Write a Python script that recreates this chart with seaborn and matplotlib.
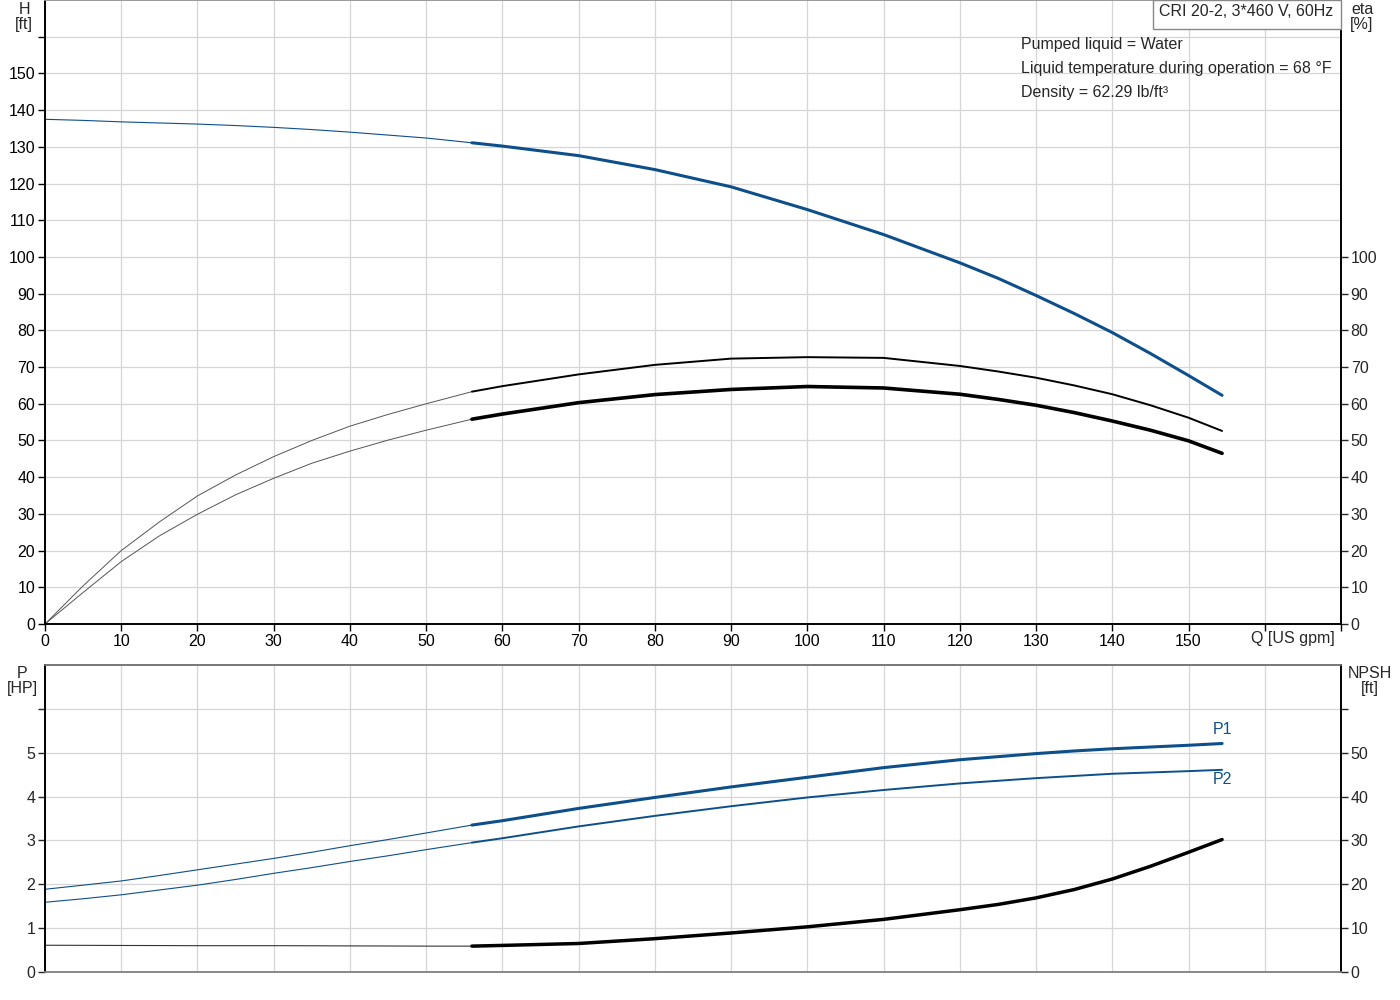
import matplotlib
matplotlib.use("Agg")
import matplotlib.pyplot as plt
import seaborn as sns
import pandas as pd
from matplotlib.patches import Rectangle

# flow points (US gpm): thin part left of the duty range, thick part in it
q_lo = [0, 5, 10, 15, 20, 25, 30, 35, 40, 45, 50, 56]
q_hi = [56, 60, 70, 80, 90, 100, 110, 120, 125, 130, 135, 140, 145, 150, 154.4]

# head H [ft]
h_lo = [137.5, 137.2, 136.8, 136.5, 136.2, 135.8, 135.3, 134.7, 134.0, 133.2, 132.4, 131.1]
h_hi = [131.1, 130.2, 127.6, 123.8, 119.1, 112.9, 106.1, 98.4, 94.2, 89.5, 84.6, 79.4, 73.7, 67.7, 62.3]

# efficiencies [%]
eta1_lo = [0, 10.4, 20.0, 27.8, 34.9, 40.6, 45.6, 50.0, 53.9, 57.1, 60.0, 63.3]
eta1_hi = [63.3, 64.8, 68.0, 70.6, 72.3, 72.7, 72.5, 70.3, 68.8, 67.1, 65.0, 62.6, 59.6, 56.2, 52.6]
eta2_lo = [0, 8.6, 17.0, 24.0, 29.9, 35.2, 39.7, 43.8, 47.1, 50.1, 52.8, 55.8]
eta2_hi = [55.8, 57.2, 60.3, 62.5, 63.9, 64.7, 64.3, 62.6, 61.2, 59.6, 57.6, 55.3, 52.8, 49.9, 46.5]

# power P [HP]
p1_lo = [1.886, 1.98, 2.076, 2.2, 2.33, 2.46, 2.59, 2.73, 2.88, 3.02, 3.17, 3.35]
p1_hi = [3.35, 3.45, 3.73, 3.98, 4.22, 4.44, 4.66, 4.84, 4.91, 4.98, 5.04, 5.09, 5.13, 5.17, 5.21]
p2_lo = [1.59, 1.67, 1.76, 1.87, 1.98, 2.11, 2.25, 2.38, 2.52, 2.65, 2.79, 2.95]
p2_hi = [2.95, 3.05, 3.32, 3.56, 3.78, 3.98, 4.15, 4.30, 4.36, 4.42, 4.47, 4.52, 4.55, 4.58, 4.61]

# NPSH [ft]
npsh_lo = [6.1, 6.08, 6.05, 6.03, 6.0, 6.0, 6.0, 5.98, 5.95, 5.93, 5.9, 5.9]
npsh_hi = [5.9, 6.06, 6.5, 7.6, 8.9, 10.3, 12.0, 14.2, 15.4, 16.9, 18.8, 21.2, 24.1, 27.3, 30.2]

info_lines = ["Pumped liquid = Water",
              "Liquid temperature during operation = 68 \u00b0F",
              "Density = 62.29 lb/ft\u00b3"]
title_box = "CRI 20-2, 3*460 V, 60Hz"

BLUE = "#0d4f8b"
GRID = "#d6d6d6"
FS = 11.5

sns.set_style("white")
plt.rcParams["font.family"] = ["Liberation Sans", "DejaVu Sans"]
plt.rcParams["font.size"] = FS

fig = plt.figure(figsize=(14, 10), dpi=100)
ax_h = fig.add_axes([45 / 1400, 1 - 624 / 1000, 1296 / 1400, 624 / 1000])
ax_p = fig.add_axes([45 / 1400, 1 - 972 / 1000, 1296 / 1400, 307 / 1000])
ax_eta = ax_h.twinx()
ax_npsh = ax_p.twinx()


def curve(ax, q, y, color, lw):
    df = pd.DataFrame({"q": q, "y": y})
    sns.lineplot(data=df, x="q", y="y", ax=ax, color=color, linewidth=lw,
                 sort=False, estimator=None, legend=False)


# top chart
curve(ax_h, q_lo, h_lo, BLUE, 0.8)
curve(ax_h, q_hi, h_hi, BLUE, 2.2)
curve(ax_eta, q_lo, eta1_lo, "#555555", 0.7)
curve(ax_eta, q_hi, eta1_hi, "black", 1.4)
curve(ax_eta, q_lo, eta2_lo, "#555555", 0.7)
curve(ax_eta, q_hi, eta2_hi, "black", 2.6)

# bottom chart
curve(ax_p, q_lo, p1_lo, BLUE, 0.8)
curve(ax_p, q_hi, p1_hi, BLUE, 2.2)
curve(ax_p, q_lo, p2_lo, BLUE, 0.8)
curve(ax_p, q_hi, p2_hi, BLUE, 1.4)
curve(ax_npsh, q_lo, npsh_lo, "#333333", 0.8)
curve(ax_npsh, q_hi, npsh_hi, "black", 2.5)

ax_p.text(154.5, 5.52, "P1", color=BLUE, ha="center", va="center", fontsize=FS)
ax_p.text(154.5, 4.39, "P2", color=BLUE, ha="center", va="center", fontsize=FS)

for ax in (ax_h, ax_p):
    ax.set_xlim(0, 170)
    ax.set_xticks(range(0, 171, 10))
    ax.grid(True, color=GRID, linewidth=0.9)
    ax.set_xlabel("")
    ax.set_ylabel("")
for ax in (ax_eta, ax_npsh):
    ax.set_ylabel("")
    ax.grid(False)

ax_h.set_ylim(0, 170)
ax_eta.set_ylim(0, 170)
ax_h.set_yticks(range(0, 170, 10))
ax_h.set_yticklabels([str(v) for v in range(0, 160, 10)] + [""])
ax_eta.set_yticks(range(0, 101, 10))
ax_h.set_xticklabels([str(v) for v in range(0, 160, 10)] + ["", ""])

ax_p.set_ylim(0, 7)
ax_npsh.set_ylim(0, 70)
ax_p.set_yticks(range(0, 7))
ax_p.set_yticklabels([str(v) for v in range(0, 6)] + [""])
ax_npsh.set_yticks(range(0, 61, 10))
ax_npsh.set_yticklabels([str(v) for v in range(0, 51, 10)] + [""])
ax_p.set_xticklabels([])

ax_h.tick_params(axis="both", direction="out", length=5, width=1, colors="black",
                 labelsize=FS, pad=2, bottom=True, left=True)
ax_eta.tick_params(axis="y", direction="out", length=5, width=1, labelsize=FS, pad=2, right=True)
ax_p.tick_params(axis="y", direction="out", length=5, width=1, labelsize=FS, pad=2, left=True)
ax_p.tick_params(axis="x", length=0)
ax_npsh.tick_params(axis="y", direction="out", length=5, width=1, labelsize=FS, pad=2, right=True)

for ax in (ax_h, ax_eta):
    ax.spines["left"].set_color("black")
    ax.spines["bottom"].set_color("black")
    ax.spines["right"].set_color("black")
    ax.spines["top"].set_color("#999999")
    for s in ax.spines.values():
        s.set_linewidth(1.2)
for ax in (ax_p, ax_npsh):
    ax.spines["left"].set_color("black")
    ax.spines["right"].set_color("black")
    ax.spines["bottom"].set_color("#888888")
    ax.spines["top"].set_color("#777777")
    for s in ax.spines.values():
        s.set_linewidth(1.2)

# axis titles
fig.text(24 / 1400, 1 - 17 / 1000, "H\n[ft]", ha="center", va="center", fontsize=FS, linespacing=1.0)
fig.text(1362 / 1400, 1 - 17 / 1000, "eta\n[%]", ha="center", va="center", fontsize=FS, linespacing=1.0)
fig.text(22 / 1400, 1 - 681 / 1000, "P\n[HP]", ha="center", va="center", fontsize=FS, linespacing=1.0)
fig.text(1370 / 1400, 1 - 681 / 1000, "NPSH\n[ft]", ha="center", va="center", fontsize=FS, linespacing=1.0)
fig.text(1251 / 1400, 1 - 639 / 1000, "Q [US gpm]", ha="left", va="center", fontsize=FS)

# info box
fig.patches.append(Rectangle((1153 / 1400, 1 - 29 / 1000), 188 / 1400, 29 / 1000,
                             transform=fig.transFigure, facecolor="white",
                             edgecolor="#888888", linewidth=1.0))
fig.text(1159 / 1400, 1 - 12 / 1000, title_box, ha="left", va="center", fontsize=FS)
for i, line in enumerate(info_lines):
    fig.text(1021 / 1400, 1 - (44 + 24 * i) / 1000, line, ha="left", va="center", fontsize=FS)

fig.savefig("out.png", dpi=100, facecolor="white")
